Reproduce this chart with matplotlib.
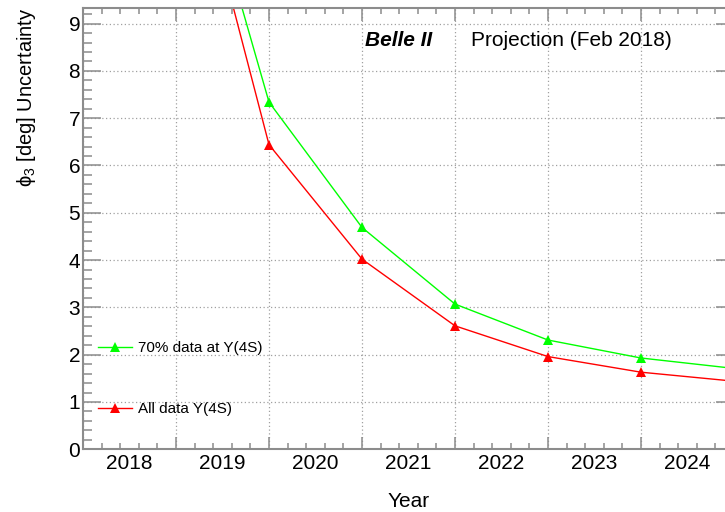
# phi3 uncertainty projection, Belle II style (ROOT-like look)

import numpy as np
import matplotlib
matplotlib.use("Agg")
import matplotlib.pyplot as plt
from matplotlib.ticker import MultipleLocator
from matplotlib.transforms import blended_transform_factory

plt.rcParams['font.family'] = ['Liberation Sans', 'DejaVu Sans']
plt.rcParams['mathtext.fontset'] = 'custom'
plt.rcParams['mathtext.rm'] = 'Liberation Sans'

# data
years = [2018.5, 2019.5, 2020.5, 2021.5, 2022.5, 2023.5, 2024.5]
unc_70 = [14.2, 7.34, 4.69, 3.07, 2.31, 1.93, 1.71]
unc_all = [14.0, 6.44, 4.02, 2.61, 1.96, 1.63, 1.44]
year_labels = [2018, 2019, 2020, 2021, 2022, 2023, 2024]

W, H = 725, 512
fig = plt.figure(figsize=(W / 100, H / 100), dpi=100)
# right edge of the frame lies just outside the picture
ax = fig.add_axes([83 / W, 1 - 449.3 / H, (734 - 83) / W, (449.3 - 7.5) / H])

frame = '#8c8c8c'
l70, = ax.plot(years, unc_70, color='#00ff00', lw=1.0, marker='^', ms=7,
               mew=0, label='70% data at Y(4S)', clip_on=True)
lall, = ax.plot(years, unc_all, color='#ff0000', lw=1.0, marker='^', ms=7,
                mew=0, label='All data Y(4S)', clip_on=True)

ax.set_xlim(2017.5, 2024.5)
ax.set_ylim(0, 9.34)

ax.xaxis.set_major_locator(MultipleLocator(1.0, offset=0.5))
ax.xaxis.set_minor_locator(MultipleLocator(0.2, offset=0.1))
ax.yaxis.set_major_locator(MultipleLocator(1))
ax.yaxis.set_minor_locator(MultipleLocator(0.2))
ax.set_xticklabels([])

ax.tick_params(axis='both', which='both', direction='in', top=True, right=True,
               color=frame, width=1.1)
ax.tick_params(axis='x', which='major', length=9)
ax.tick_params(axis='x', which='minor', length=4.5)
ax.tick_params(axis='y', which='major', length=13, labelsize=15, pad=2)
ax.tick_params(axis='y', which='minor', length=6.5)

for s in ax.spines.values():
    s.set_color(frame)
    s.set_linewidth(1.5)

ax.grid(True, which='major', color='#a0a0a0', linestyle=(0, (1, 2)), lw=0.9)

# year labels sit in the middle of each bin
tr = blended_transform_factory(ax.transData, fig.transFigure)
for y in year_labels:
    ax.text(y, 1 - 469.3 / H, str(y), transform=tr, ha='center',
            va='baseline', fontsize=15)

fig.text(408.5 / W, 1 - 507 / H, 'Year', ha='center', va='baseline', fontsize=15)
fig.text(32 / W, 1 - 8 / H, '\u03d5$_{3}$ [deg] Uncertainty', rotation=90,
         rotation_mode='anchor', ha='right', va='baseline', fontsize=14.5)

fig.text(365 / W, 1 - 46 / H, 'Belle II', fontsize=15, fontweight='bold',
         fontstyle='italic', va='baseline')
fig.text(471 / W, 1 - 46 / H, 'Projection (Feb 2018)', fontsize=15,
         va='baseline')

ax.legend(handles=[l70, lall], loc='upper left', frameon=False, fontsize=11,
          bbox_to_anchor=(98 / W, 1 - 341 / H), bbox_transform=fig.transFigure,
          borderpad=0, borderaxespad=0, handlelength=2.2, handletextpad=0.4,
          labelspacing=3.1)

fig.savefig('out.png', dpi=100)
